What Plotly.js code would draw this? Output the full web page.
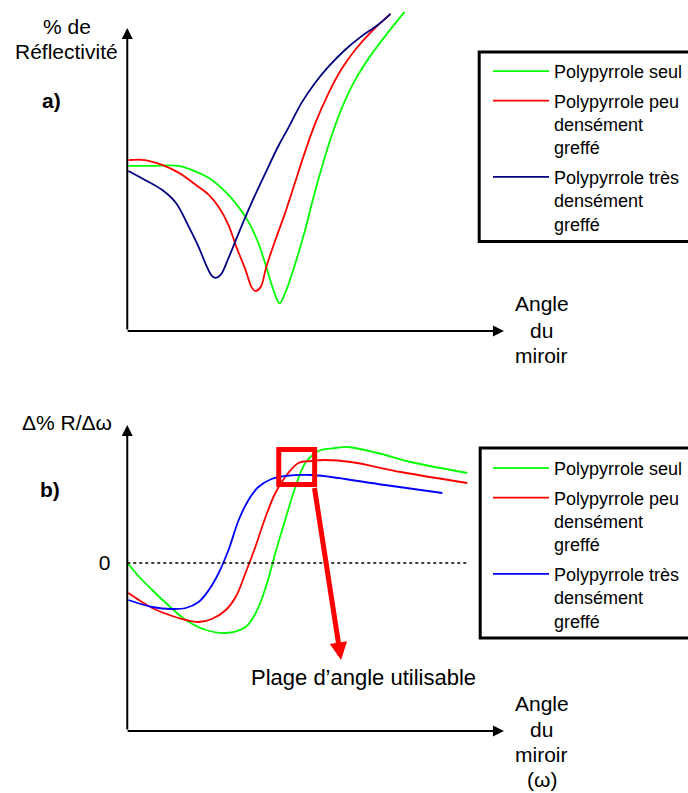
<!DOCTYPE html>
<html><head><meta charset="utf-8">
<script src="https://cdn.plot.ly/plotly-3.0.1.min.js"></script>
<style>html,body{margin:0;padding:0;background:#fff}#chart{width:688px;height:793px}</style>
</head><body><div id="chart"></div>
<script>
// Legend labels
const seriesNames = ['Polypyrrole seul', 'Polypyrrole peu<br>densément<br>greffé', 'Polypyrrole très<br>densément<br>greffé'];

// Panel a) : % de réflectivité vs angle du miroir (arbitrary units, schematic)
const aSeulX = [0.3, 6.6, 13.7, 17.1, 21.6, 26.1, 29.5, 32.1, 34.7, 36.8, 38.7, 40.3, 41.8, 44.5, 47.1, 48.9, 51.3, 53.9, 56.6, 60.3, 64.5, 68.9, 73.4];
const aSeulY = [51.3, 51.3, 51.3, 50.0, 47.5, 43.1, 38.4, 33.8, 27.2, 19.7, 12.5, 8.4, 11.6, 20.9, 31.3, 39.7, 50.0, 60.0, 68.8, 78.1, 85.9, 92.8, 99.4];
const aPeuX = [0.3, 4.7, 9.2, 13.7, 18.2, 21.6, 24.2, 26.8, 28.9, 31.3, 32.9, 33.9, 35.3, 36.8, 39.2, 41.8, 44.2, 46.6, 49.7, 53.2, 56.6, 60.3, 64.5, 69.7];
const aPeuY = [53.1, 53.1, 51.6, 49.1, 45.3, 42.2, 38.4, 32.8, 25.9, 18.8, 13.4, 12.2, 13.4, 19.7, 28.1, 36.6, 45.3, 54.1, 64.4, 73.8, 81.3, 87.5, 93.1, 98.8];
const aTresX = [0.3, 4.7, 9.2, 12.9, 16.3, 18.9, 21.1, 22.4, 23.4, 24.7, 26.8, 29.5, 32.9, 36.6, 40.0, 42.6, 46.1, 49.7, 53.2, 57.6, 61.8, 66.3, 69.7];
const aTresY = [49.7, 46.9, 43.8, 39.7, 32.2, 25.9, 19.7, 16.9, 16.3, 17.2, 22.5, 30.3, 39.7, 49.1, 57.5, 63.1, 70.9, 77.2, 82.2, 87.5, 91.6, 95.3, 98.8];

// Panel b) : Δ%R/Δω vs angle du miroir
const bSeulX = [0.3, 3.2, 6.6, 11.1, 15.5, 20.8, 26.1, 31.3, 33.7, 35.5, 37.4, 39.2, 41.8, 44.5, 47.1, 49.7, 51.3, 55.0, 58.4, 66.3, 75.0, 90.0];
const bSeulY = [-0.01, -0.14, -0.27, -0.43, -0.57, -0.67, -0.70, -0.64, -0.52, -0.37, -0.15, 0.10, 0.43, 0.76, 1.00, 1.10, 1.13, 1.15, 1.16, 1.10, 1.01, 0.90];
const bPeuX = [0.3, 6.6, 11.1, 15.5, 18.9, 22.4, 26.1, 28.7, 31.3, 33.9, 36.6, 39.2, 41.8, 45.3, 48.7, 52.4, 59.2, 72.4, 90.0];
const bPeuY = [-0.30, -0.45, -0.52, -0.57, -0.59, -0.56, -0.47, -0.34, -0.10, 0.16, 0.46, 0.70, 0.86, 1.00, 1.02, 1.03, 1.01, 0.91, 0.80];
const bTresX = [0.3, 6.6, 11.8, 15.5, 18.9, 21.6, 24.2, 26.8, 29.5, 32.1, 34.7, 38.2, 41.8, 48.7, 53.9, 68.2, 83.4];
const bTresY = [-0.37, -0.44, -0.46, -0.45, -0.39, -0.27, -0.10, 0.13, 0.43, 0.63, 0.76, 0.84, 0.87, 0.88, 0.86, 0.78, 0.70];

// Usable angle range (panel b) and zero reference
const usableRangeX = [40.1, 49.6];
const usableRangeY = [0.785, 1.135];
const zeroLineEnd = 90;

const FONT = 'Liberation Sans, Arial, sans-serif';
const W = 688, H = 793;
const px = v => v / W;
const py = v => (H - v) / H;

function tr(x, y, name, color, xa, ya, leg, grp) {
  return {x: x, y: y, name: name, type: 'scatter', mode: 'lines',
    line: {color: color, width: 1.8, shape: 'spline', smoothing: 1},
    xaxis: xa, yaxis: ya, legend: leg, legendgroup: grp, hoverinfo: 'skip'};
}

const data = [
  tr(aSeulX, aSeulY, seriesNames[0], '#00ff00', 'x', 'y', 'legend', 'a1'),
  tr(aPeuX, aPeuY, seriesNames[1], '#ff0000', 'x', 'y', 'legend', 'a2'),
  tr(aTresX, aTresY, seriesNames[2], '#000080', 'x', 'y', 'legend', 'a3'),
  tr(bSeulX, bSeulY, seriesNames[0], '#00ff00', 'x2', 'y2', 'legend2', 'b1'),
  tr(bPeuX, bPeuY, seriesNames[1], '#ff0000', 'x2', 'y2', 'legend2', 'b2'),
  tr(bTresX, bTresY, seriesNames[2], '#0000ff', 'x2', 'y2', 'legend2', 'b3')
];

const hidden = {showgrid: false, zeroline: false, showline: false, showticklabels: false, ticks: '', fixedrange: true};

function axArrow(xref, yref, x, y, ax, ay, color, width, size) {
  return {xref: xref, yref: yref, axref: xref, ayref: yref, x: x, y: y, ax: ax, ay: ay,
    text: '', showarrow: true, arrowhead: 2, arrowsize: size, arrowwidth: width, arrowcolor: color, standoff: 0};
}
function label(x, y, text, opts) {
  return Object.assign({xref: 'paper', yref: 'paper', x: px(x), y: py(y), text: text, showarrow: false,
    xanchor: 'center', yanchor: 'middle', align: 'center', font: {family: FONT, size: 21, color: '#000'}}, opts || {});
}

const legendCommon = {xanchor: 'left', yanchor: 'top', bgcolor: 'rgba(0,0,0,0)', borderwidth: 0,
  font: {family: FONT, size: 18, color: '#000'}, valign: 'top', itemwidth: 56, tracegroupgap: 3, traceorder: 'grouped'};

const layout = {
  width: W, height: H, margin: {l: 0, r: 0, t: 0, b: 0, pad: 0},
  paper_bgcolor: '#fff', plot_bgcolor: 'rgba(0,0,0,0)', showlegend: true,
  xaxis: Object.assign({domain: [px(124.2), px(511.8)], range: [-1, 101], anchor: 'y'}, hidden),
  yaxis: Object.assign({domain: [py(336.4), py(6.8)], range: [-2, 101], anchor: 'x'}, hidden),
  xaxis2: Object.assign({domain: [px(124.2), px(511.8)], range: [-1, 101], anchor: 'y2'}, hidden),
  yaxis2: Object.assign({}, hidden, {domain: [py(735), py(421)], range: [-1.72, 1.42], anchor: 'x2',
    showticklabels: true, tickvals: [0], ticktext: ['0'], ticklabelstandoff: 12,
    tickfont: {family: FONT, size: 21, color: '#000'}}),
  legend: Object.assign({x: px(491), y: py(53)}, legendCommon),
  legend2: Object.assign({x: px(491), y: py(450)}, legendCommon),
  shapes: [
    {type: 'rect', xref: 'paper', yref: 'paper', x0: px(482), x1: 1.05, y0: py(241.5), y1: py(52), line: {color: '#000', width: 3}},
    {type: 'rect', xref: 'paper', yref: 'paper', x0: px(483), x1: 1.05, y0: py(638), y1: py(448), line: {color: '#000', width: 3}},
    {type: 'line', xref: 'x2', yref: 'y2', x0: 0, x1: zeroLineEnd, y0: 0, y1: 0, line: {color: '#000', width: 1.5, dash: 'dot'}},
    {type: 'rect', xref: 'x2', yref: 'y2', x0: usableRangeX[0], x1: usableRangeX[1], y0: usableRangeY[0], y1: usableRangeY[1], line: {color: '#ff0000', width: 5}}
  ],
  annotations: [
    axArrow('x', 'y', 0, 94.4, 0, -0.3, '#000', 2, 1.1),
    axArrow('x', 'y', 99.7, -0.3, -0.3, -0.3, '#000', 2, 1.1),
    axArrow('x2', 'y2', 0, 1.38, 0, -1.68, '#000', 2, 1.1),
    axArrow('x2', 'y2', 99.7, -1.68, -0.3, -1.68, '#000', 2, 1.1),
    axArrow('x2', 'y2', 56.6, -0.97, 49.5, usableRangeY[0] - 0.02, '#ff0000', 5, 0.7),
    label(67, 26, '% de'),
    label(67, 51, 'Réflectivité'),
    label(52, 100, '<b>a)</b>'),
    label(545, 303, 'Angle'),
    label(545, 330, 'du'),
    label(545, 355, 'miroir'),
    label(67, 423, 'Δ% R/Δω'),
    label(50, 489, '<b>b)</b>'),
    label(365.5, 677, 'Plage d’angle utilisable', {font: {family: FONT, size: 22, color: '#000'}}),
    label(545, 703, 'Angle'),
    label(545, 729, 'du'),
    label(545, 754, 'miroir'),
    label(545, 779, '(ω)')
  ]
};

Plotly.newPlot('chart', data, layout, {staticPlot: true, displayModeBar: false});
</script>
</body></html>
